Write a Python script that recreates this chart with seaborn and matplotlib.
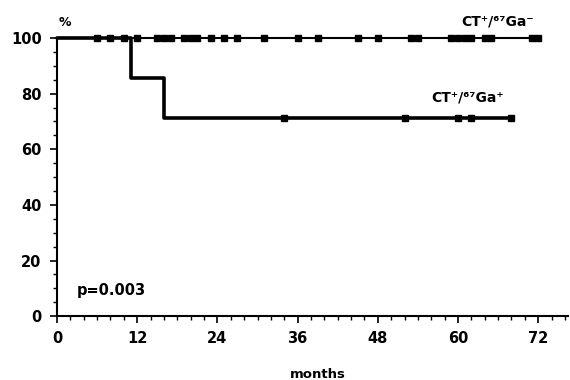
import numpy as np
import pandas as pd
import matplotlib
matplotlib.use("Agg")
import matplotlib.pyplot as plt
import seaborn as sns
from matplotlib.ticker import MultipleLocator

# Kaplan-Meier steps
neg_times = [0, 72]
neg_surv = [100, 100]
neg_censor = [6, 8, 10, 12, 15, 16, 17, 19, 20, 21, 23, 25, 27, 31, 36, 39,
              45, 48, 53, 54, 59, 60, 61, 62, 64, 65, 71, 72]

pos_times = [0, 11, 16, 68]
pos_surv = [100, 85.7, 71.4, 71.4]
pos_censor = [34, 52, 60, 62, 68]

x_ticks = [0, 12, 24, 36, 48, 60, 72]
y_ticks = [0, 20, 40, 60, 80, 100]


def surv_at(times, surv, t):
    idx = np.searchsorted(times, t, side="right") - 1
    return np.asarray(surv)[idx]


sns.set_style("ticks")
plt.rcParams["font.family"] = ["DejaVu Sans"]
plt.rcParams.update({
    "text.color": "black",
    "axes.labelcolor": "black",
    "xtick.color": "black",
    "ytick.color": "black",
})

fig = plt.figure(figsize=(5.7, 3.8), dpi=100)
ax = fig.add_axes([0.1, 0.168, 0.897, 0.732])

curves = pd.DataFrame({
    "months": neg_times + pos_times,
    "surv": neg_surv + pos_surv,
    "group": ["neg"] * len(neg_times) + ["pos"] * len(pos_times),
})
for grp, lw in [("neg", 1.5), ("pos", 2.6)]:
    sub = curves[curves["group"] == grp]
    sns.lineplot(data=sub, x="months", y="surv", drawstyle="steps-post",
                 color="black", linewidth=lw, ax=ax, clip_on=False,
                 legend=False)

for times, surv, cens in [(neg_times, neg_surv, neg_censor),
                          (pos_times, pos_surv, pos_censor)]:
    cy = surv_at(times, surv, cens)
    ax.plot(cens, cy, linestyle="none", marker="s", markersize=4.2,
            color="black", clip_on=False)

ax.set_xlim(0, 76.5)
ax.set_ylim(0, 100)
ax.set_xticks(x_ticks)
ax.set_yticks(y_ticks)
ax.xaxis.set_minor_locator(MultipleLocator(2))
ax.yaxis.set_minor_locator(MultipleLocator(5))
ax.tick_params(axis="both", which="major", length=5, width=1.2,
               direction="out", labelsize=10.5, pad=6)
ax.tick_params(axis="both", which="minor", length=3, width=1.0,
               direction="out")
for lab in ax.get_xticklabels() + ax.get_yticklabels():
    lab.set_fontweight("bold")

for side in ["top", "right"]:
    ax.spines[side].set_visible(False)
for side in ["left", "bottom"]:
    ax.spines[side].set_linewidth(1.5)
    ax.spines[side].set_color("black")

ax.set_xlabel("months", fontsize=9.5, fontweight="bold")
ax.xaxis.set_label_coords(0.51, -0.21)
ax.xaxis.label.set_va("center")
ax.set_ylabel("")

ax.text(0.2, 105.5, "%", fontsize=9, fontweight="bold", ha="left",
        va="center")
ax.text(3, 9.4, "p=0.003", fontsize=10.5, fontweight="bold", ha="left",
        va="center")
ax.text(71.4, 103.5, "CT\u207a/\u2076\u2077Ga\u207b", fontsize=10,
        fontweight="bold", ha="right", va="bottom")
ax.text(66.9, 76, "CT\u207a/\u2076\u2077Ga\u207a", fontsize=10,
        fontweight="bold", ha="right", va="bottom")

fig.savefig("out.png", dpi=100)
